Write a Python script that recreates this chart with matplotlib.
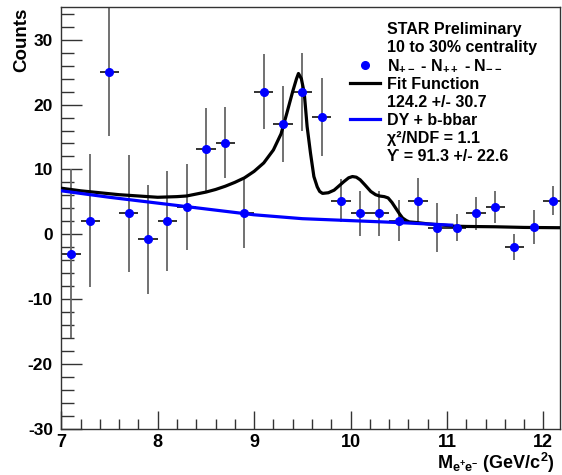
import matplotlib
matplotlib.use('Agg')
import matplotlib.pyplot as plt
from matplotlib.lines import Line2D
from matplotlib.ticker import MultipleLocator
import numpy as np

plt.rcParams['font.family'] = ['Liberation Sans', 'DejaVu Sans']
plt.rcParams['font.weight'] = 'bold'
plt.rcParams['axes.unicode_minus'] = False
plt.rcParams['mathtext.fontset'] = 'custom'
plt.rcParams['mathtext.rm'] = 'Liberation Sans:bold'
plt.rcParams['mathtext.bf'] = 'Liberation Sans:bold'
plt.rcParams['mathtext.it'] = 'Liberation Sans:bold'

# data points (bin centres, counts, errors)
mass = [7.1, 7.3, 7.5, 7.7, 7.9, 8.1, 8.3, 8.5, 8.7, 8.9, 9.1, 9.3, 9.5,
        9.7, 9.9, 10.1, 10.3, 10.5, 10.7, 10.9, 11.1, 11.3, 11.5, 11.7, 11.9, 12.1]
counts = [-3.0, 2.1, 25.1, 3.2, -0.8, 2.1, 4.2, 13.1, 14.1, 3.2, 22.0, 17.0, 22.0,
          18.1, 5.2, 3.2, 3.2, 2.1, 5.2, 1.0, 1.0, 3.2, 4.2, -1.9, 1.1, 5.2]
err = [13.0, 10.3, 10.0, 9.0, 8.4, 7.7, 6.7, 6.4, 5.5, 5.4, 5.8, 5.8, 6.0,
       6.0, 3.3, 3.5, 3.5, 3.2, 3.4, 3.8, 2.1, 2.6, 2.4, 2.0, 2.6, 2.3]
half_bin = 0.1

# fit function
fit_x = [7.0, 7.2, 7.4, 7.6, 7.8, 8.0, 8.2, 8.3, 8.4, 8.5, 8.6, 8.7, 8.8, 8.9,
         9.0, 9.1, 9.2, 9.28, 9.34, 9.4, 9.44, 9.46, 9.49, 9.52, 9.55, 9.585,
         9.62, 9.655, 9.68, 9.71, 9.77, 9.83, 9.93, 9.98, 10.02, 10.06, 10.1,
         10.15, 10.21, 10.26, 10.3, 10.35, 10.39, 10.43, 10.47, 10.51, 10.54,
         10.58, 10.61, 10.69, 10.8, 11.0, 11.07, 11.2, 11.5, 11.8, 12.2]
fit_y = [7.1, 6.7, 6.4, 6.1, 5.9, 5.7, 5.8, 5.9, 6.2, 6.5, 6.9, 7.4, 8.0, 8.7,
         9.7, 11.0, 13.0, 15.5, 18.7, 22.0, 24.0, 24.8, 24.0, 21.8, 16.6, 12.5,
         8.9, 7.3, 6.6, 6.3, 6.4, 6.8, 8.1, 8.7, 8.9, 8.8, 8.4,
         7.6, 6.6, 6.1, 5.9, 5.8, 5.6, 4.9, 4.0, 3.1, 2.5,
         2.1, 1.9, 1.8, 1.6, 1.35, 1.25, 1.2, 1.15, 1.05, 1.0]

# DY + b-bbar background
bkg_x = [7.0, 7.5, 8.0, 8.5, 9.0, 9.5, 10.0, 10.5, 11.05]
bkg_y = [6.7, 5.7, 4.8, 3.9, 3.0, 2.4, 2.1, 1.8, 1.4]

fig = plt.figure(figsize=(5.62, 4.75), dpi=100)
ax = fig.add_axes([0.109, 0.0975, 0.887, 0.887])

m = np.array(mass)
c = np.array(counts)
e = np.array(err)
ax.vlines(m, c - e, c + e, color='#666666', linewidth=1.3, zorder=2)
ax.hlines(c, m - half_bin, m + half_bin, color='#222222', linewidth=1.3, zorder=2)
ax.plot(fit_x, fit_y, color='black', linewidth=2.3, zorder=3)
ax.plot(bkg_x, bkg_y, color='#0000ff', linewidth=2.3, zorder=4)
ax.plot(m, c, 'o', color='#0000ff', markersize=5.5, zorder=5)

ax.set_xlim(7, 12.17)
ax.set_ylim(-30, 35)
ax.xaxis.set_major_locator(MultipleLocator(1))
ax.xaxis.set_minor_locator(MultipleLocator(0.2))
ax.yaxis.set_major_locator(MultipleLocator(10))
ax.yaxis.set_minor_locator(MultipleLocator(2))
ax.tick_params(axis='both', which='both', direction='in', colors='#333333',
               labelcolor='black', top=False, right=False)
ax.tick_params(axis='y', which='major', length=15, width=1, pad=6, labelsize=12.5)
ax.tick_params(axis='y', which='minor', length=9, width=1)
ax.tick_params(axis='x', which='major', length=13, width=1, pad=4, labelsize=13)
ax.tick_params(axis='x', which='minor', length=7, width=1)
for sp in ax.spines.values():
    sp.set_color('#333333')
    sp.set_linewidth(1.0)

ax.set_ylabel('Counts', fontsize=13.5, fontweight='bold', loc='top')
ax.yaxis.set_label_coords(-0.062, 1.0)
ax.set_xlabel(r'$\mathbf{M_{e^{+}e^{-}}}$ (GeV/c$^{2}$)', fontsize=13,
              fontweight='bold', loc='right', labelpad=-0.5)
ax.xaxis.label.set_x(0.99)

blank = Line2D([], [], linestyle='none')
handles = [blank, blank,
           Line2D([], [], linestyle='none', marker='o', color='#0000ff', markersize=5.5),
           Line2D([], [], color='black', linewidth=2.3),
           blank,
           Line2D([], [], color='#0000ff', linewidth=2.3),
           blank, blank]
labels = ['STAR Preliminary', '10 to 30% centrality',
          r'N$_{+-}$ - N$_{++}$ - N$_{--}$',
          'Fit Function', '124.2 +/- 30.7', 'DY + b-bbar',
          'χ²/NDF = 1.1', 'ϒ = 91.3 +/- 22.6']
leg = ax.legend(handles, labels, loc='upper left', bbox_to_anchor=(0.579, 0.966),
                frameon=False, fontsize=11.5, handlelength=1.9, handletextpad=0.45,
                labelspacing=0.18, borderpad=0, borderaxespad=0)

fig.savefig('out.png', dpi=100)
